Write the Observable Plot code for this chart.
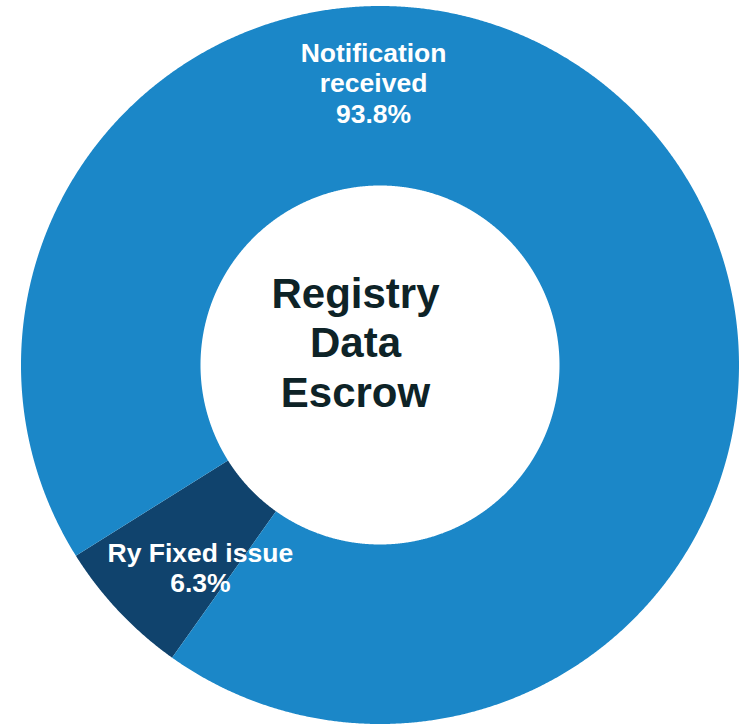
<!DOCTYPE html>
<html><head><meta charset="utf-8">
<script src="https://cdn.jsdelivr.net/npm/d3@7"></script>
<script src="https://cdn.jsdelivr.net/npm/@observablehq/plot@0.6"></script>
<style>
html,body{margin:0;padding:0;background:#fff}
#chart{width:739px;height:724px;overflow:hidden}
</style>
</head><body><div id="chart"></div>
<script>
// ---- data ----
const categories = ["Ry Fixed issue", "Notification received"];
const labelLines = [["Ry Fixed issue"], ["Notification", "received"]];
const counts = [1, 15];
const colors = ["#10436d", "#1b87c8"];
const centerTitle = ["Registry", "Data", "Escrow"];

// ---- layout ----
const W = 739, H = 724;
const CX = 379.5, CY = 364.5;       // donut centre in pixels
const R_OUT = 359, R_IN = 179.5;
const START_DEG = 215.4;            // clockwise from 12 o'clock
const LABEL_R = [270.6, 282.5];
const LABEL_DEG = [221.6, -1.3];

const total = d3.sum(counts);
const rad = d => d * Math.PI / 180;
let acc = rad(START_DEG);
const slices = counts.map((v, i) => {
  const a0 = acc, a1 = acc + v / total * 2 * Math.PI;
  acc = a1;
  return {name: categories[i], value: v, a0, a1, color: colors[i],
          pct: (v / total * 100).toFixed(1) + "%"};
});

function ring(s) {
  const n = Math.max(2, Math.ceil((s.a1 - s.a0) / 0.004));
  const pts = [];
  for (let i = 0; i <= n; i++) {
    const a = s.a0 + (s.a1 - s.a0) * i / n;
    pts.push({x: R_OUT * Math.sin(a), y: R_OUT * Math.cos(a)});
  }
  for (let i = n; i >= 0; i--) {
    const a = s.a0 + (s.a1 - s.a0) * i / n;
    pts.push({x: R_IN * Math.sin(a), y: R_IN * Math.cos(a)});
  }
  return pts;
}

const labels = slices.map((s, i) => ({
  text: labelLines[i].concat([s.pct]).join("\n"),
  x: LABEL_R[i] * Math.sin(rad(LABEL_DEG[i])),
  y: LABEL_R[i] * Math.cos(rad(LABEL_DEG[i]))
}));

const font = "'Liberation Sans', Arial, Helvetica, sans-serif";

const chart = Plot.plot({
  width: W, height: H,
  margin: 0,
  x: {domain: [-CX, W - CX], axis: null},
  y: {domain: [-(H - CY), CY], axis: null},
  marks: [
    ...slices.map(s => Plot.line(ring(s), {
      x: "x", y: "y", fill: s.color, stroke: "none", curve: "linear"
    })),
    Plot.text(labels, {
      x: "x", y: "y", text: "text",
      fill: "white", fontFamily: font, fontWeight: "bold",
      fontSize: 26.5, lineHeight: 1.15
    }),
    Plot.text([centerTitle.join("\n")], {
      frameAnchor: "middle", dx: -14.5, dy: -21,
      fill: "#0e2327", fontFamily: font, fontWeight: "bold",
      fontSize: 42, lineHeight: 1.18
    })
  ]
});
document.getElementById("chart").appendChild(chart);
</script>
</body></html>
